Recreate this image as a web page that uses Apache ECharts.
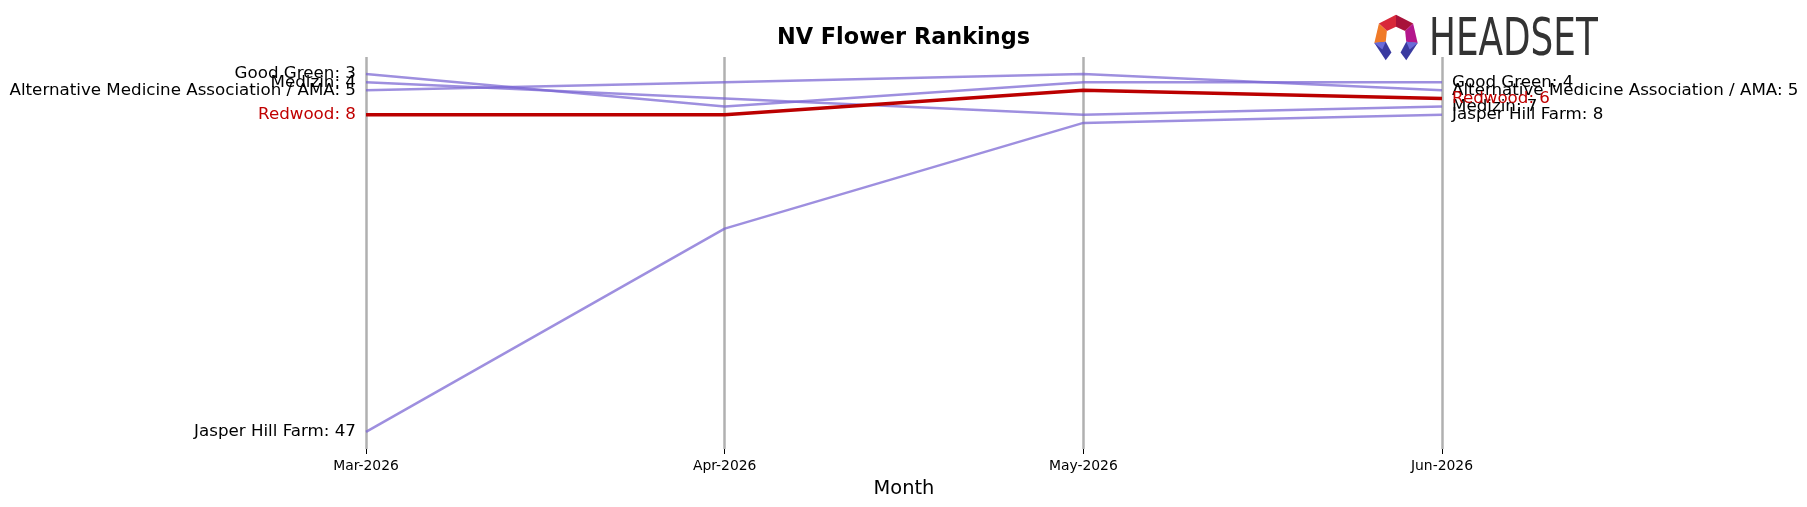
<!DOCTYPE html>
<html>
<head>
<meta charset="utf-8">
<script src="https://cdn.jsdelivr.net/npm/echarts@6/dist/echarts.min.js"></script>
<style>
html,body{margin:0;padding:0;background:#fff;}
#main{width:1807px;height:507px;}
</style>
</head>
<body>
<div id="main"></div>
<script>
// months on the x axis
var months = ['Mar-2026', 'Apr-2026', 'May-2026', 'Jun-2026'];
// brand names
var brands = ['Good Green', 'Medizin', 'Alternative Medicine Association / AMA', 'Jasper Hill Farm', 'Redwood'];
// monthly rank per brand
var goodGreen = [3, 7, 4, 4];
var medizin = [4, 6, 8, 7];
var ama = [5, 4, 3, 5];
var jasperHill = [47, 22, 9, 8];
var redwood = [8, 8, 5, 6];

var ranks = [goodGreen, medizin, ama, jasperHill, redwood];
var highlight = 'Redwood';

var myChart = echarts.init(document.getElementById('main'));

function buildData(name, vals, txtColor) {
	return vals.map(function (v, i) {
		if (i === 0 || i === vals.length - 1) {
			return {
				value: v,
				label: {
					show: true,
					position: i === 0 ? 'left' : 'right',
					distance: 10,
					offset: [0, 2],
					formatter: name + ': ' + v,
					color: txtColor,
					fontSize: 16.7,
					fontFamily: 'DejaVu Sans'
				}
			};
		}
		return v;
	});
}

var series = [];
for (var i = 0; i < brands.length; i++) {
	var isHi = brands[i] === highlight;
	series.push({
		name: brands[i],
		type: 'line',
		data: buildData(brands[i], ranks[i], isHi ? '#c00000' : '#000'),
		showSymbol: true,
		symbol: 'circle',
		symbolSize: 0.1,
		z: isHi ? 5 : 2,
		itemStyle: {color: isHi ? '#bb0000' : 'rgba(120,100,210,0.75)'},
		lineStyle: {
			color: isHi ? '#bb0000' : 'rgba(120,100,210,0.72)',
			width: isHi ? 3.5 : 2.5
		},
		emphasis: {disabled: true},
		labelLayout: {hideOverlap: false}
	});
}

// logo pieces (headset mark)
var logoPieces = [
	{pts: [[1380,23],[1395,15],[1395,26],[1387,30]], c: '#d8283a'},
	{pts: [[1395,15],[1410,23],[1403,30],[1395,26]], c: '#a8123a'},
	{pts: [[1380,23],[1387,30],[1386,40],[1376,41]], c: '#f07a28'},
	{pts: [[1410,23],[1414,41],[1404,40],[1403,30]], c: '#b4168c'},
	{pts: [[1376,41],[1386,40],[1391,50],[1386,57]], c: '#3a3aa0'},
	{pts: [[1414,41],[1404,40],[1399,50],[1404,57]], c: '#3a3aa0'},
	{pts: [[1376,41],[1386,40],[1383,47]], c: '#6a6ad8'},
	{pts: [[1414,41],[1404,40],[1407,47]], c: '#6a6ad8'}
];
var graphics = [{
	type: 'group',
	x: 1396,
	y: 37.5,
	scaleX: 1.14,
	scaleY: 1.08,
	children: logoPieces.map(function (p) {
		return {
			type: 'polygon',
			shape: {points: p.pts.map(function (q) { return [q[0] - 1395, q[1] - 36]; })},
			style: {fill: p.c},
			silent: true
		};
	})
}];
graphics.push({
	type: 'text',
	left: 1429,
	top: 16,
	scaleX: 0.78,
	style: {text: 'HEADSET', fontSize: 51, fontFamily: 'DejaVu Sans Condensed', fill: '#333'},
	silent: true
});

var option = {
	animation: false,
	backgroundColor: '#fff',
	title: {
		text: 'NV Flower Rankings',
		left: 'center',
		top: 27,
		padding: 0,
		textStyle: {fontSize: 22.4, fontWeight: 'bold', fontFamily: 'DejaVu Sans', color: '#000'}
	},
	grid: {left: 366, right: 365, top: 57, bottom: 58},
	xAxis: {
		type: 'category',
		data: months,
		boundaryGap: false,
		name: 'Month',
		nameLocation: 'middle',
		nameGap: 30,
		nameTextStyle: {fontSize: 19.4, fontFamily: 'DejaVu Sans', color: '#000'},
		axisLine: {show: false},
		axisTick: {show: true, length: 5, lineStyle: {color: '#000', width: 1}},
		axisLabel: {fontSize: 13.9, fontFamily: 'DejaVu Sans', color: '#000', margin: 10},
		splitLine: {show: true, lineStyle: {color: '#b0b0b0', width: 2.5}}
	},
	yAxis: {
		type: 'value',
		inverse: true,
		min: 0.9,
		max: 49.1,
		show: false,
		splitLine: {show: false}
	},
	series: series,
	graphic: graphics
};
myChart.setOption(option);
</script>
</body>
</html>
